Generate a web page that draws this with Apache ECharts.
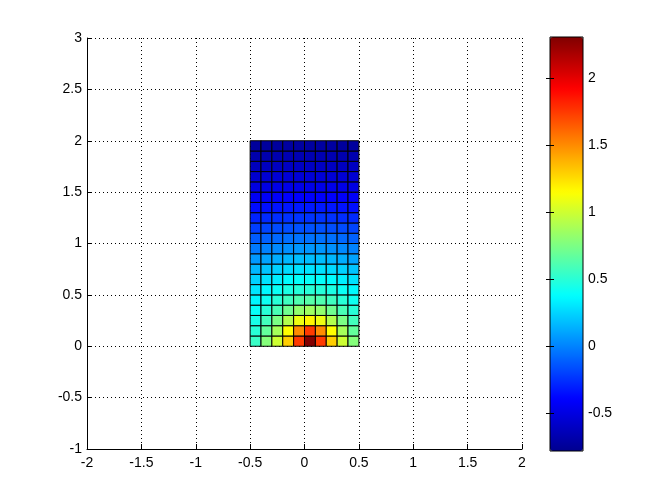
<!DOCTYPE html>
<html>
<head>
<meta charset="utf-8">
<script src="https://cdn.jsdelivr.net/npm/echarts@6/dist/echarts.min.js"></script>
<style>
html,body{margin:0;padding:0;background:#fff;}
#chart{width:672px;height:504px;}
</style>
</head>
<body>
<div id="chart"></div>
<script>
// Mesh edges (pcolor vertices)
const xEdges = [-0.5, -0.4, -0.3, -0.2, -0.1, 0, 0.1, 0.2, 0.3, 0.4, 0.5];
const yEdges = [0, 0.1, 0.2, 0.3, 0.4, 0.5, 0.6, 0.7, 0.8, 0.9, 1.0,
                1.1, 1.2, 1.3, 1.4, 1.5, 1.6, 1.7, 1.8, 1.9, 2.0];
// Cell values, row 0 = bottom (y 0..0.1), columns left to right
const row00 = [0.55, 0.78, 1.00, 1.30, 1.75, 2.30, 1.75, 1.30, 1.00, 0.78];
const row01 = [0.50, 0.68, 0.88, 1.15, 1.50, 1.75, 1.50, 1.15, 0.88, 0.68];
const row02 = [0.45, 0.58, 0.75, 0.92, 1.10, 1.18, 1.10, 0.92, 0.75, 0.58];
const row03 = [0.40, 0.50, 0.60, 0.72, 0.82, 0.86, 0.82, 0.72, 0.60, 0.50];
const row04 = [0.35, 0.42, 0.50, 0.57, 0.62, 0.64, 0.62, 0.57, 0.50, 0.42];
const row05 = [0.30, 0.36, 0.41, 0.46, 0.49, 0.50, 0.49, 0.46, 0.41, 0.36];
const row06 = [0.24, 0.29, 0.33, 0.37, 0.39, 0.40, 0.39, 0.37, 0.33, 0.29];
const row07 = [0.16, 0.20, 0.24, 0.27, 0.29, 0.30, 0.29, 0.27, 0.24, 0.20];
const row08 = [0.07, 0.10, 0.13, 0.16, 0.18, 0.18, 0.18, 0.16, 0.13, 0.10];
const row09 = [-0.03, 0.00, 0.02, 0.04, 0.06, 0.06, 0.06, 0.04, 0.02, 0.00];
const row10 = [-0.12, -0.10, -0.08, -0.06, -0.05, -0.05, -0.05, -0.06, -0.08, -0.10];
const row11 = [-0.21, -0.19, -0.17, -0.16, -0.15, -0.15, -0.15, -0.16, -0.17, -0.19];
const row12 = [-0.29, -0.27, -0.26, -0.25, -0.24, -0.24, -0.24, -0.25, -0.26, -0.27];
const row13 = [-0.36, -0.35, -0.34, -0.33, -0.32, -0.32, -0.32, -0.33, -0.34, -0.35];
const row14 = [-0.43, -0.42, -0.41, -0.40, -0.40, -0.40, -0.40, -0.40, -0.41, -0.42];
const row15 = [-0.50, -0.49, -0.48, -0.47, -0.47, -0.47, -0.47, -0.47, -0.48, -0.49];
const row16 = [-0.56, -0.55, -0.54, -0.54, -0.53, -0.53, -0.53, -0.54, -0.54, -0.55];
const row17 = [-0.62, -0.61, -0.61, -0.60, -0.60, -0.60, -0.60, -0.60, -0.61, -0.61];
const row18 = [-0.68, -0.67, -0.67, -0.66, -0.66, -0.66, -0.66, -0.66, -0.67, -0.67];
const row19 = [-0.74, -0.73, -0.73, -0.72, -0.72, -0.72, -0.72, -0.72, -0.73, -0.73];
const rows = [row00, row01, row02, row03, row04, row05, row06, row07, row08, row09,
              row10, row11, row12, row13, row14, row15, row16, row17, row18, row19];
// Colour limits (colorbar)
const cMin = -0.78;
const cMax = 2.31;
const cbarTicks = [-0.5, 0, 0.5, 1, 1.5, 2];
const jet = ['#00008f', '#0000ff', '#0080ff', '#00ffff', '#80ff80', '#ffff00', '#ff8000', '#ff0000', '#800000'];

const cells = [];
for (let j = 0; j < rows.length; j++) {
  for (let i = 0; i < rows[j].length; i++) {
    cells.push([xEdges[i], yEdges[j], xEdges[i + 1], yEdges[j + 1], rows[j][i]]);
  }
}

const font = {color: '#000', fontFamily: 'Liberation Sans, Arial, sans-serif', fontSize: 14};
const chart = echarts.init(document.getElementById('chart'), null, {renderer: 'canvas'});
chart.setOption({
  animation: false,
  backgroundColor: '#fff',
  grid: [
    {left: 87, top: 38, width: 435, height: 411, containLabel: false},
    {left: 550, top: 37, width: 33, height: 414, show: true, borderColor: '#000', borderWidth: 1, backgroundColor: 'transparent', z: 10}
  ],
  xAxis: [
    {gridIndex: 0, type: 'value', min: -2, max: 2, interval: 0.5,
     axisLine: {show: true, onZero: false, lineStyle: {color: '#000', width: 1}},
     axisTick: {show: true, inside: true, length: 5, lineStyle: {color: '#000'}},
     axisLabel: Object.assign({margin: 7}, font),
     splitLine: {show: true, lineStyle: {color: '#000', width: 1, type: [1, 3]}}},
    {gridIndex: 1, type: 'value', min: 0, max: 1, show: false}
  ],
  yAxis: [
    {gridIndex: 0, type: 'value', min: -1, max: 3, interval: 0.5,
     axisLine: {show: true, onZero: false, lineStyle: {color: '#000', width: 1}},
     axisTick: {show: true, inside: true, length: 5, lineStyle: {color: '#000'}},
     axisLabel: Object.assign({margin: 5}, font),
     splitLine: {show: true, lineStyle: {color: '#000', width: 1, type: [1, 3]}}},
    {gridIndex: 1, type: 'value', min: cMin, max: cMax, position: 'right', z: 10,
     axisLine: {show: false},
     axisTick: {show: true, inside: true, length: 4, customValues: cbarTicks, lineStyle: {color: '#000'}},
     axisLabel: Object.assign({margin: 5, customValues: cbarTicks}, font),
     splitLine: {show: false}},
    {gridIndex: 1, type: 'value', min: cMin, max: cMax, position: 'left', z: 10,
     axisLine: {show: false},
     axisTick: {show: true, inside: true, length: 4, customValues: cbarTicks, lineStyle: {color: '#000'}},
     axisLabel: {show: false},
     splitLine: {show: false}}
  ],
  visualMap: {
    type: 'continuous', seriesIndex: 0, dimension: 4,
    min: cMin, max: cMax, calculable: false, realtime: false,
    orient: 'vertical', left: 550, top: 37, itemWidth: 33, itemHeight: 414,
    padding: 0, text: null, showLabel: false,
    inRange: {color: jet}
  },
  series: [
    {type: 'custom', xAxisIndex: 0, yAxisIndex: 0, data: cells,
     encode: {x: [0, 2], y: [1, 3]},
     renderItem: function (params, api) {
       const p0 = api.coord([api.value(0), api.value(1)]);
       const p1 = api.coord([api.value(2), api.value(3)]);
       return {
         type: 'rect',
         shape: {x: p0[0], y: p1[1], width: p1[0] - p0[0], height: p0[1] - p1[1]},
         style: {fill: api.visual('color'), stroke: '#000', lineWidth: 1}
       };
     }},
    {type: 'custom', xAxisIndex: 1, yAxisIndex: 1, data: [],
     renderItem: function () { return null; }}
  ]
});
</script>
</body>
</html>
